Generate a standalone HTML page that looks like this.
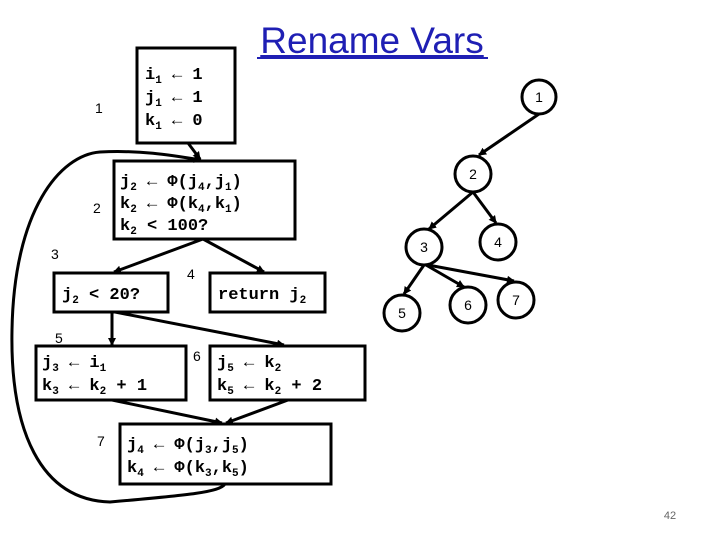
<!DOCTYPE html>
<html><head><meta charset="utf-8"><style>
body{margin:0;background:#fff}
svg{display:block}
.m{font-family:"Liberation Mono",monospace;font-size:17px;font-weight:bold;fill:#000}
.s{font-family:"Liberation Sans",sans-serif;font-size:14px;fill:#000}
</style></head><body>
<svg width="720" height="540" viewBox="0 0 720 540" xmlns="http://www.w3.org/2000/svg">
<defs><marker id="a" markerWidth="8" markerHeight="8" refX="7" refY="4" orient="auto" markerUnits="userSpaceOnUse"><path d="M0,0 L8,4 L0,8 z" fill="#000"/></marker></defs>
<text x="372" y="53" text-anchor="middle" font-family="Liberation Sans,sans-serif" font-size="37" fill="#1f1fb4" text-decoration="underline">Rename Vars</text>
<line x1="257" y1="58" x2="488" y2="58" stroke="#1f1fb4" stroke-width="2"/>
<g fill="none" stroke="#000" stroke-width="3">
<rect x="137" y="48" width="98" height="95"/>
<rect x="114" y="161" width="181" height="78"/>
<rect x="54" y="273" width="114" height="39"/>
<rect x="210" y="273" width="115" height="39"/>
<rect x="36" y="346" width="150" height="54"/>
<rect x="210" y="346" width="155" height="54"/>
<rect x="120" y="424" width="211" height="60"/>
</g>
<g stroke="#000" stroke-width="3" fill="none" marker-end="url(#a)">
<line x1="188" y1="143" x2="200" y2="159"/>
<line x1="203" y1="239" x2="114" y2="272"/>
<line x1="203" y1="239" x2="264" y2="272"/>
<line x1="112" y1="312" x2="112" y2="345"/>
<line x1="115" y1="312" x2="284" y2="345"/>
<line x1="112" y1="400" x2="222" y2="423"/>
<line x1="288" y1="400" x2="226" y2="423"/>
<path d="M225,484 C220,492 190,495 110,502 C40,500 10,430 12,330 C14,210 60,155 100,152 C140,150 170,155 201,160"/>
</g>
<g class="m">
<text x="145" y="79">i<tspan font-size="11" dy="4">1</tspan><tspan dy="-4"> ← 1</tspan></text>
<text x="145" y="102">j<tspan font-size="11" dy="4">1</tspan><tspan dy="-4"> ← 1</tspan></text>
<text x="145" y="125">k<tspan font-size="11" dy="4">1</tspan><tspan dy="-4"> ← 0</tspan></text>
<text x="120" y="186">j<tspan font-size="11" dy="4">2</tspan><tspan dy="-4"> ← Φ(j</tspan><tspan font-size="11" dy="4">4</tspan><tspan dy="-4">,j</tspan><tspan font-size="11" dy="4">1</tspan><tspan dy="-4">)</tspan></text>
<text x="120" y="208">k<tspan font-size="11" dy="4">2</tspan><tspan dy="-4"> ← Φ(k</tspan><tspan font-size="11" dy="4">4</tspan><tspan dy="-4">,k</tspan><tspan font-size="11" dy="4">1</tspan><tspan dy="-4">)</tspan></text>
<text x="120" y="230">k<tspan font-size="11" dy="4">2</tspan><tspan dy="-4"> &lt; 100?</tspan></text>
<text x="62" y="299">j<tspan font-size="11" dy="4">2</tspan><tspan dy="-4"> &lt; 20?</tspan></text>
<text x="218" y="299">return j<tspan font-size="11" dy="4">2</tspan></text>
<text x="42" y="367">j<tspan font-size="11" dy="4">3</tspan><tspan dy="-4"> ← i</tspan><tspan font-size="11" dy="4">1</tspan></text>
<text x="42" y="390">k<tspan font-size="11" dy="4">3</tspan><tspan dy="-4"> ← k</tspan><tspan font-size="11" dy="4">2</tspan><tspan dy="-4"> + 1</tspan></text>
<text x="217" y="367">j<tspan font-size="11" dy="4">5</tspan><tspan dy="-4"> ← k</tspan><tspan font-size="11" dy="4">2</tspan></text>
<text x="217" y="390">k<tspan font-size="11" dy="4">5</tspan><tspan dy="-4"> ← k</tspan><tspan font-size="11" dy="4">2</tspan><tspan dy="-4"> + 2</tspan></text>
<text x="127" y="449">j<tspan font-size="11" dy="4">4</tspan><tspan dy="-4"> ← Φ(j</tspan><tspan font-size="11" dy="4">3</tspan><tspan dy="-4">,j</tspan><tspan font-size="11" dy="4">5</tspan><tspan dy="-4">)</tspan></text>
<text x="127" y="472">k<tspan font-size="11" dy="4">4</tspan><tspan dy="-4"> ← Φ(k</tspan><tspan font-size="11" dy="4">3</tspan><tspan dy="-4">,k</tspan><tspan font-size="11" dy="4">5</tspan><tspan dy="-4">)</tspan></text>
</g>
<g class="s">
<text x="95" y="113">1</text><text x="93" y="213">2</text><text x="51" y="259">3</text>
<text x="187" y="279">4</text><text x="55" y="343">5</text><text x="193" y="361">6</text><text x="97" y="446">7</text>
</g>
<g stroke="#000" stroke-width="3" fill="none" marker-end="url(#a)">
<line x1="539" y1="114" x2="479" y2="155"/>
<line x1="473" y1="192" x2="429" y2="229"/>
<line x1="473" y1="192" x2="496" y2="223"/>
<line x1="424" y1="265" x2="404" y2="294"/>
<line x1="426" y1="265" x2="464" y2="287"/>
<line x1="428" y1="265" x2="514" y2="281"/>
</g>
<g stroke="#000" stroke-width="3" fill="#fff">
<circle cx="539" cy="97" r="17"/><circle cx="473" cy="174" r="18"/><circle cx="424" cy="247" r="18"/>
<circle cx="498" cy="242" r="18"/><circle cx="402" cy="313" r="18"/><circle cx="468" cy="305" r="18"/><circle cx="516" cy="300" r="18"/>
</g>
<g class="s" text-anchor="middle">
<text x="539" y="102">1</text><text x="473" y="179">2</text><text x="424" y="252">3</text><text x="498" y="247">4</text>
<text x="402" y="318">5</text><text x="468" y="310">6</text><text x="516" y="305">7</text>
</g>
<text x="670" y="519" text-anchor="middle" font-family="Liberation Sans,sans-serif" font-size="11" fill="#666">42</text>
</svg>
</body></html>
